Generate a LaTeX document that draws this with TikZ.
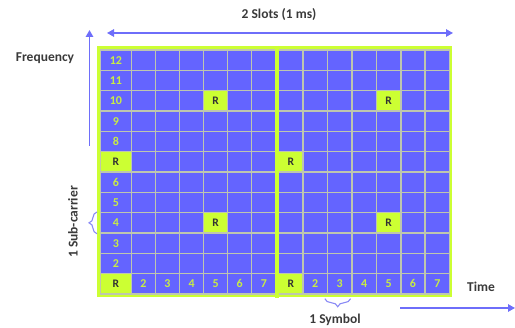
\documentclass[tikz,border=0pt]{standalone}
\usepackage{fontspec}
\setmainfont{Carlito}
\usepackage{tikz}
\usetikzlibrary{
  arrows.meta,
  decorations.pathreplacing
}
\definecolor{cellblue}{HTML}{6464FF}
\definecolor{refgreen}{HTML}{CCFF33}
\definecolor{numgreen}{HTML}{C8EC46}
\definecolor{gridgray}{HTML}{BEC6AE}
\definecolor{axisblue}{HTML}{6E6EFA}
\definecolor{bracecol}{HTML}{8A8AF5}
\definecolor{labelgray}{HTML}{3A3A3A}
\tikzstyle{cellbox} = [
  rectangle, draw=gridgray, line width=1.4pt, fill=cellblue,
  minimum width=24.3pt, minimum height=20.33pt, inner sep=0pt,
  anchor=north west
]
\tikzstyle{firstbox} = [cellbox, minimum width=30.5pt]
\tikzstyle{refbox} = [fill=refgreen]
\tikzstyle{numtext} = [font=\bfseries\fontsize{12}{12}\selectfont, text=numgreen]
\tikzstyle{reftext} = [font=\bfseries\fontsize{11.5}{11.5}\selectfont, text=black!80]
\tikzstyle{axislabel} = [font=\bfseries\fontsize{13.5}{13.5}\selectfont, text=labelgray]
\tikzstyle{axisarrow} = [-{Triangle[length=7pt,width=7.5pt]}, line width=1.4pt, draw=axisblue]
\tikzstyle{bracestyle} = [decorate, decoration={brace, amplitude=8pt}, draw=bracecol, line width=1.1pt]
\tikzset{
  rc-1-1/.style=refbox, rc-1-7/.style=refbox,
  rc-5-4/.style=refbox, rc-5-10/.style=refbox,
  rc-8-1/.style=refbox, rc-8-7/.style=refbox,
  rc-12-4/.style=refbox, rc-12-10/.style=refbox
}

\begin{document}
\begin{tikzpicture}[x=1pt, y=-1pt]
\useasboundingbox (0,0) rectangle (515,328);

% --- Grid ---
\fill[refgreen] (97,46) rectangle (452,297);
\foreach \r in {1,...,12}
  \node[firstbox, rc-1-\r/.try] (c1-\r) at (100, {293.3-20.33*\r}) {};
\foreach \c in {2,...,7}
  \foreach \r in {1,...,12}
    \node[cellbox, rc-\c-\r/.try] (c\c-\r) at ({130.5+24.1*(\c-2)}, {293.3-20.33*\r}) {};
\foreach \c in {8,...,14}
  \foreach \r in {1,...,12}
    \node[cellbox, rc-\c-\r/.try] (c\c-\r) at ({278+24.43*(\c-8)}, {293.3-20.33*\r}) {};
\draw[refgreen, line width=3.5pt]
  ([xshift=-1pt, yshift=3.5pt]c8-12.north west) -- ([xshift=-1pt, yshift=-3.5pt]c8-1.south west);

% --- Cell texts ---
\foreach \r in {2,...,6,8,9,10,11,12}
  \node[numtext] (n1-\r) at (c1-\r) {\r};
\foreach \c/\t in {2/2,3/3,4/4,5/5,6/6,7/7,9/2,10/3,11/4,12/5,13/6,14/7}
  \node[numtext] (n\c-1) at (c\c-1) {\t};
\foreach \c/\r in {1/1,1/7,5/4,5/10,8/1,8/7,12/4,12/10}
  \node[reftext] (rs\c-\r) at (c\c-\r) {R};

% --- Axes ---
\coordinate (slotL) at (107,33);
\coordinate (slotR) at (453,33);
\coordinate (freqB) at (89.5,146);
\coordinate (freqT) at (89.5,30);
\coordinate (timeL) at (400,308);
\coordinate (timeR) at (515,308);
\draw[axisarrow, {Triangle[length=7pt,width=7.5pt]}-{Triangle[length=7pt,width=7.5pt]}] (slotL) -- (slotR);
\draw[axisarrow] (freqB) -- (freqT);
\draw[axisarrow] (timeL) -- (timeR);

% --- Braces ---
\draw[bracestyle] ([xshift=-3pt]c1-4.south west) -- ([xshift=-3pt]c1-4.north west);
\draw[bracestyle] ([xshift=-2pt, yshift=-4pt]c10-1.south east) -- ([xshift=-2pt, yshift=-4pt]c10-1.south west);

% --- Labels ---
\node[axislabel] (slots) at (279,15) {2 Slots (1 ms)};
\node[axislabel] (freq) at (45,58) {Frequency};
\node[axislabel, rotate=90] (subc) at (73,222) {1 Sub-carrier};
\node[axislabel] (time) at (481,287) {Time};
\node[axislabel] (symb) at (335,320) {1 Symbol};

\end{tikzpicture}
\end{document}
